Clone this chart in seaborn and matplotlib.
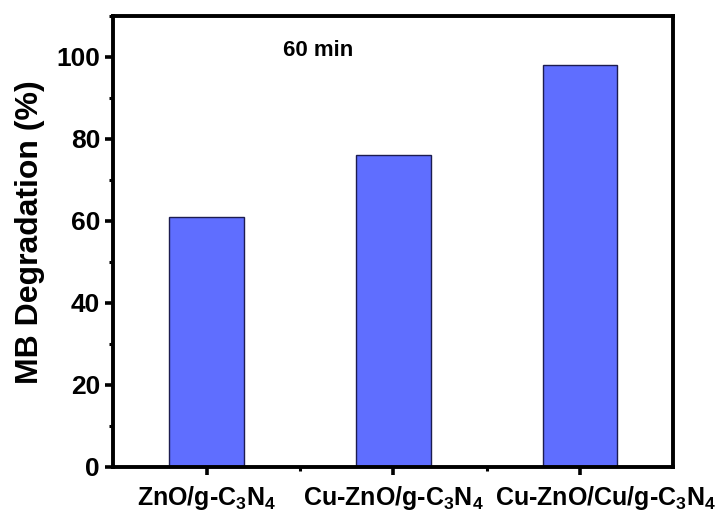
import matplotlib
matplotlib.use("Agg")
import matplotlib.pyplot as plt
import matplotlib.transforms as mtransforms
from matplotlib.ticker import MultipleLocator, FixedLocator
import pandas as pd
import seaborn as sns

# data
samples = [r"ZnO/g-C$_3$N$_4$", r"Cu-ZnO/g-C$_3$N$_4$", r"Cu-ZnO/Cu/g-C$_3$N$_4$"]
degradation = [61, 76, 98]
note = "60 min"

df = pd.DataFrame({"sample": samples, "deg": degradation})

sns.set_style("ticks")
plt.rcParams["font.family"] = ["Liberation Sans", "DejaVu Sans"]
plt.rcParams["font.weight"] = "bold"
plt.rcParams["text.color"] = "black"
plt.rcParams["axes.labelcolor"] = "black"
plt.rcParams["axes.edgecolor"] = "black"
plt.rcParams["xtick.color"] = "black"
plt.rcParams["ytick.color"] = "black"
plt.rcParams["mathtext.fontset"] = "custom"
plt.rcParams["mathtext.rm"] = "Liberation Sans:bold"
plt.rcParams["mathtext.it"] = "Liberation Sans:bold"
plt.rcParams["mathtext.bf"] = "Liberation Sans:bold"

fig = plt.figure(figsize=(7.21, 5.16), dpi=100)
ax = fig.add_axes([0.157, 0.095, 0.777, 0.874])

sns.barplot(data=df, x="sample", y="deg", color="#5f6eff", saturation=1,
            width=0.4, edgecolor="#1c1c50", linewidth=1, ax=ax)

ax.set_xlim(-0.5, 2.5)
ax.set_ylim(0, 110)
ax.set_xlabel("")
ax.set_ylabel("MB Degradation (%)", fontsize=23, fontweight="bold")
ax.yaxis.set_label_coords(-0.121, 0.52)

ax.yaxis.set_major_locator(MultipleLocator(20))
ax.yaxis.set_minor_locator(FixedLocator([10, 30, 50, 70, 90, 110]))
ax.xaxis.set_minor_locator(FixedLocator([0.5, 1.5]))

for s in ax.spines.values():
    s.set_linewidth(2.8)
    s.set_visible(True)

ax.tick_params(axis="both", which="major", direction="out", length=6, width=2.6,
               labelsize=19)
ax.tick_params(axis="both", which="minor", direction="out", length=3, width=2.2)
ax.tick_params(axis="x", labelsize=18, pad=6)
for lab in ax.get_yticklabels():
    lab.set_fontweight("bold")
for lab in ax.get_xticklabels():
    lab.set_fontweight("bold")

# last label sits a little to the right in the original
last = ax.get_xticklabels()[-1]
last.set_transform(last.get_transform() +
                   mtransforms.ScaledTranslation(0.26, 0, fig.dpi_scale_trans))

ax.text(0.6, 101.5, note, fontsize=16, fontweight="bold", ha="center", va="center")

fig.savefig("out.png", dpi=100)
